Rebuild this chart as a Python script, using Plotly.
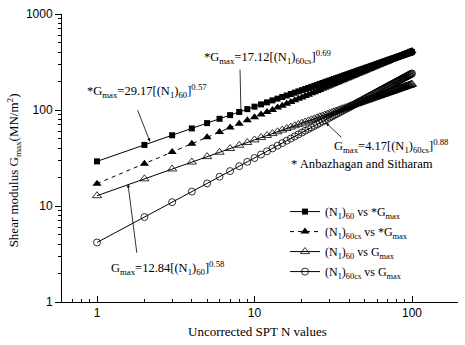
import plotly.graph_objects as go

# Uncorrected SPT N values
N = list(range(1, 101))

# (N1)60 vs *Gmax
G_n60_star = [29.17, 43.3, 54.56, 64.29, 73, 81, 88.44, 95.43, 102.1, 108.4, 114.4, 120.2, 125.9, 131.3, 136.6, 141.7,
              146.7, 151.5, 156.3, 160.9, 165.4, 169.9, 174.2, 178.5, 182.7, 186.8, 190.9, 194.9, 198.8, 202.7, 206.5, 210.3,
              214, 217.7, 221.3, 224.9, 228.5, 232, 235.4, 238.8, 242.2, 245.6, 248.9, 252.2, 255.4, 258.6, 261.8, 265,
              268.1, 271.2, 274.3, 277.4, 280, 283, 286, 289, 292, 295, 298, 301,
              304, 307, 309, 312, 315, 318, 320, 323, 326, 329, 331, 334,
              337, 339, 342, 344, 347, 349, 352, 355, 357, 360, 362, 365,
              367, 369, 372, 374, 377, 379, 382, 384, 386, 389, 391, 393,
              396, 398, 400, 403]
# (N1)60cs vs *Gmax
G_n60cs_star = [17.1, 27.6, 36.5, 44.6, 52, 58.9, 65.6, 71.9, 78, 83.9, 89.5, 95.1,
                100, 106, 111, 116, 121, 126, 131, 135, 140, 144, 149, 153,
                158, 162, 166, 171, 175, 179, 183, 187, 191, 195, 199, 203,
                207, 211, 214, 218, 222, 226, 229, 233, 237, 240, 244, 247,
                251, 255, 258, 262, 265, 268, 272, 275, 279, 282, 285, 289,
                292, 295, 299, 302, 305, 308, 312, 315, 318, 321, 324, 327,
                331, 334, 337, 340, 343, 346, 349, 352, 355, 358, 361, 364,
                367, 370, 373, 376, 379, 382, 385, 388, 391, 394, 396, 399,
                402, 405, 408, 411]
# (N1)60 vs Gmax
G_n60 = [12.8, 19.2, 24.3, 28.7, 32.7, 36.3, 39.7, 42.9, 45.9, 48.8, 51.6, 54.3,
         56.8, 59.3, 61.8, 64.1, 66.4, 68.6, 70.8, 73, 75.1, 77.1, 79.1, 81.1,
         83.1, 85, 86.8, 88.7, 90.5, 92.3, 94.1, 95.8, 97.6, 99.3, 101, 103,
         104, 106, 107, 109, 111, 112, 114, 115, 117, 118, 120, 121,
         123, 124, 126, 127, 128, 130, 131, 133, 134, 135, 137, 138,
         139, 141, 142, 143, 145, 146, 147, 148, 150, 151, 152, 153,
         155, 156, 157, 158, 159, 161, 162, 163, 164, 165, 167, 168,
         169, 170, 171, 172, 173, 175, 176, 177, 178, 179, 180, 181,
         182, 183, 185, 186]
# (N1)60cs vs Gmax
G_n60cs = [4.17, 7.674, 10.96, 14.12, 17.19, 20.18, 23.11, 25.99, 28.83, 31.63, 34.4, 37.14, 39.85, 42.53, 45.2, 47.84,
           50.46, 53.06, 55.65, 58.22, 60.77, 63.31, 65.83, 68.35, 70.85, 73.34, 75.81, 78.28, 80.73, 83.18, 85.61, 88.04,
           90.45, 92.86, 95.26, 97.65, 100, 102.4, 104.8, 107.1, 109.5, 111.8, 114.2, 116.5, 118.8, 121.2, 123.5, 125.8,
           128.1, 130.4, 132.7, 135, 137.2, 139.5, 141.8, 144.1, 146.3, 148.6, 150.8, 153.1, 155.3, 157.6, 159.8, 162,
           164.2, 166.5, 168.7, 170.9, 173.1, 175.3, 177.5, 179.7, 181.9, 184.1, 186.3, 188.5, 190.7, 192.8, 195, 197.2,
           199.3, 201.5, 203.7, 205.8, 208, 210.1, 212.3, 214.4, 216.6, 218.7, 220.8, 223, 225.1, 227.2, 229.4, 231.5,
           233.6, 235.7, 237.8, 240]

series_names = ["(N<sub>1</sub>)<sub>60</sub> vs *G<sub>max</sub>",
                "(N<sub>1</sub>)<sub>60cs</sub> vs *G<sub>max</sub>",
                "(N<sub>1</sub>)<sub>60</sub> vs G<sub>max</sub>",
                "(N<sub>1</sub>)<sub>60cs</sub> vs G<sub>max</sub>"]

x_ticks = [1, 10, 100]
y_ticks = [1, 10, 100, 1000]

serif = "Liberation Serif, Times New Roman, serif"
sans = "Liberation Sans, Arial, sans-serif"
W, H = 465, 345
L, R, T, B = 62, 7, 11, 43

def px(xp):
    return (xp - L) / (W - L - R)

def py(yp):
    return (H - B - yp) / (H - T - B)

fig = go.Figure()
styles = [
    (G_n60_star, dict(color="black", width=1), dict(symbol="square", size=6, color="black")),
    (G_n60cs_star, dict(color="black", width=1, dash="4px,4px"), dict(symbol="triangle-up", size=8, color="black")),
    (G_n60, dict(color="black", width=1), dict(symbol="triangle-up-open", size=8, color="black", line=dict(width=0.8))),
    (G_n60cs, dict(color="black", width=1), dict(symbol="circle-open", size=7, color="black", line=dict(width=0.8))),
]
for i, (name, (ys, ln, mk)) in enumerate(zip(series_names, styles)):
    fig.add_trace(go.Scatter(x=N, y=ys, mode="lines+markers", name=name, line=ln, marker=mk,
                             legendgroup="g%d" % i))

fig.update_layout(
    width=W, height=H, margin=dict(l=L, r=R, t=T, b=B),
    paper_bgcolor="white", plot_bgcolor="white", showlegend=True,
    legend=dict(x=px(285), y=py(196), xanchor="left", yanchor="top",
                font=dict(family=serif, size=12, color="black"), bgcolor="rgba(0,0,0,0)",
                tracegroupgap=1, itemwidth=30),
)
fig.update_xaxes(type="log", range=[-0.2222, 2.292], showline=True, linecolor="black", linewidth=1,
                 ticks="inside", ticklen=6, tickcolor="black",
                 tickvals=x_ticks, ticktext=[str(v) for v in x_ticks],
                 tickfont=dict(family=sans, size=12, color="black"),
                 minor=dict(ticks="inside", ticklen=3, tickcolor="black", dtick="D1", showgrid=False),
                 showgrid=False, zeroline=False)
fig.update_yaxes(type="log", range=[0, 3], showline=True, linecolor="black", linewidth=1,
                 ticks="outside", ticklen=6, tickcolor="black",
                 tickvals=y_ticks, ticktext=[str(v) for v in y_ticks],
                 tickfont=dict(family=sans, size=12, color="black"),
                 minor=dict(ticks="outside", ticklen=3, tickcolor="black", dtick="D1", showgrid=False),
                 showgrid=False, zeroline=False)

anns = []
def text(s, xp, yp, size=13, angle=0):
    anns.append(dict(text=s, x=px(xp), y=py(yp), xref="paper", yref="paper", showarrow=False,
                     xanchor="center", yanchor="middle", textangle=angle,
                     font=dict(family=serif, size=size, color="black")))

def arrow(tx, ty, sx, sy):
    anns.append(dict(text="", x=px(tx), y=py(ty), xref="paper", yref="paper", showarrow=True,
                     ax=sx - tx, ay=sy - ty, arrowhead=2, arrowsize=0.8, arrowwidth=0.8, arrowcolor="black"))

text("Uncorrected SPT N values", 257, 332, 13)
text("Shear modulus G<sub>max</sub>(MN/m<sup>2</sup>)", 14, 169, 13, -90)
text("*G<sub>max</sub>=29.17[(N<sub>1</sub>)<sub>60</sub>]<sup>0.57</sup>", 147, 89, 12.5)
text("*G<sub>max</sub>=17.12[(N<sub>1</sub>)<sub>60cs</sub>]<sup>0.69</sup>", 268, 54, 12.5)
text("G<sub>max</sub>=4.17[(N<sub>1</sub>)<sub>60cs</sub>]<sup>0.88</sup>", 391, 144, 12.5)
text("* Anbazhagan and Sitharam", 362, 163, 12.6)
text("G<sub>max</sub>=12.84[(N<sub>1</sub>)<sub>60</sub>]<sup>0.58</sup>", 168, 268, 12.5)
arrow(150, 140, 137, 107)
arrow(241, 112, 240, 66)
arrow(326, 121, 343, 137)
arrow(128, 183, 137, 253)
fig.update_layout(annotations=anns)

fig.write_html("out.html", config={"displayModeBar": False},
               post_script="document.body.style.margin='0';document.body.style.overflow='hidden';")
